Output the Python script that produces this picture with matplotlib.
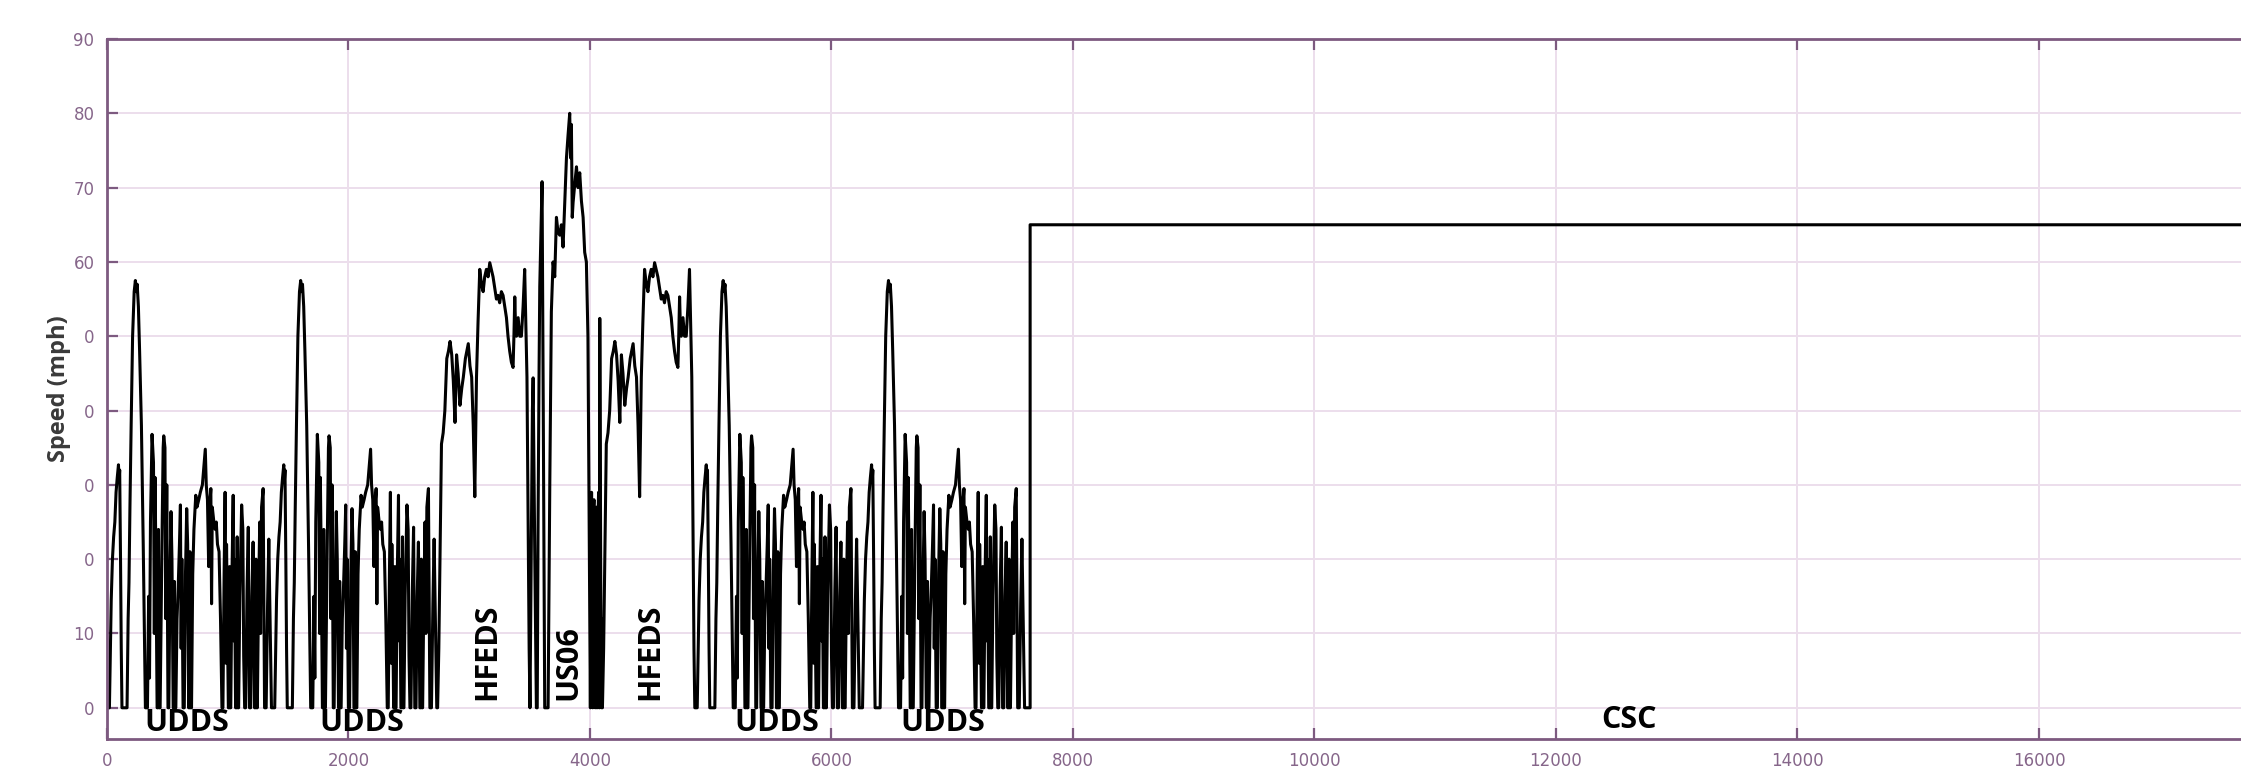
import numpy as np
import matplotlib
matplotlib.use("Agg")
import matplotlib.pyplot as plt

# one UDDS cycle, keypoints (s, mph)
udds_t = [0, 20, 28, 35, 45, 55, 65, 75, 85, 95, 100, 105, 112, 118, 124,
          166, 175, 182, 190, 200, 212, 225, 235, 242, 250, 260, 270, 285, 300, 318,
          335, 345, 352, 360, 373, 385, 392, 398, 405, 415,
          420, 426, 432,
          440, 455, 465, 470, 480, 486, 495, 505,
          512, 522, 530, 538, 548,
          553, 558, 563,
          570, 580, 590, 600, 608, 614, 620, 630,
          640, 650, 660, 668, 676,
          682, 687, 692,
          700, 710, 720, 735, 745, 760, 773, 790, 805, 814, 822, 832, 842,
          850, 860, 866, 872, 885, 897, 905, 915, 928, 940, 952,
          960, 970, 978, 985, 990, 1005,
          1010, 1015, 1020,
          1025, 1035, 1045, 1050, 1055, 1065,
          1072, 1078, 1084,
          1090, 1100, 1115, 1125, 1132, 1140,
          1148, 1160, 1170, 1180,
          1190, 1200, 1210, 1222,
          1228, 1234, 1240,
          1245, 1255, 1265, 1272, 1280, 1293, 1305,
          1318, 1330, 1340, 1352, 1362, 1369]
udds_v = [0, 0, 8, 14.5, 20, 23, 25, 29, 31, 32.7, 30.5, 32, 20, 8, 0,
          0, 12, 16.8, 27, 38, 50, 56, 57.5, 56, 57, 54, 48, 38, 22, 0,
          0, 15, 4, 25, 36.8, 33, 10, 31, 20, 0,
          0, 24, 0,
          0, 22, 35, 36.6, 35, 12, 30, 0,
          0, 18, 26.4, 20, 0,
          0, 17, 0,
          0, 12, 16.4, 22, 27.3, 8, 20, 0,
          0, 18, 26.8, 22, 0,
          0, 21, 0,
          0, 18, 24, 28.6, 27, 28, 29, 30, 33, 34.8, 30, 28, 19,
          27, 29.5, 14, 27, 25, 24, 25, 22, 21, 12, 0,
          0, 18, 29, 6, 22, 0,
          0, 19, 0,
          0, 18, 28.6, 9, 20, 0,
          0, 23, 0,
          0, 15, 27.3, 24, 7, 0,
          0, 16, 24.3, 0,
          0, 15, 22.3, 0,
          0, 20, 0,
          0, 15, 25, 10, 27, 29.5, 0,
          0, 14, 22.7, 10, 0, 0]

# HFEDS cycle
hfeds_t = [0, 10, 20, 32, 46, 60, 76, 90, 103, 117, 130, 144, 157, 170, 185, 200,
           213, 230, 254, 268, 282, 295, 308, 322, 335, 349, 363, 377, 390, 404,
           418, 432, 445, 459, 473, 487, 500, 514, 528, 542, 556, 570, 583, 597,
           611, 625, 632, 639, 646, 653, 667, 680, 694, 708, 721, 730, 740, 750,
           758, 765]
hfeds_v = [0, 8, 20, 35.5, 37, 40, 47, 48, 49.3, 47.5, 44, 38.4, 47.5, 45, 40.7, 43,
           44.5, 47, 49, 46, 44.5, 38, 28.4, 44.5, 52, 59, 57, 56, 58, 59,
           58, 59.9, 59, 58, 56.5, 55, 55.5, 54.5, 56, 55.5, 54, 52.5, 50, 48,
           46.5, 45.8, 50, 55.3, 51, 50, 52.5, 50, 50, 54, 59, 52, 44.5, 25,
           8, 0]

# US06 cycle
us06_t = [0, 10, 20, 26, 40, 53, 60, 67, 75, 81, 92, 100, 110, 122, 150, 164, 177,
          191, 205, 219, 232, 246, 260, 274, 288, 302, 315, 329, 336, 343, 350,
          357, 371, 385, 398, 412, 426, 440, 453, 467, 480, 489, 500,
          505, 510, 515, 520, 525, 530, 535, 540, 545, 550, 555, 562, 568, 574,
          578, 585, 590, 596, 600]
us06_v = [0, 20, 40, 44.4, 20, 0, 0, 25, 45, 56.7, 65, 70.8, 40, 0, 0, 30, 53.3,
          60, 58, 66, 64, 63.6, 65, 62, 68, 74, 77, 80, 74, 78.5, 66,
          68, 70.5, 72.8, 70, 72, 68.2, 66, 61.3, 60, 50, 27, 0,
          18, 29, 5, 0, 26, 28, 3, 0, 22, 27, 0, 24, 29, 0,
          52.4, 20, 0, 12, 0]

# constant speed cycle at the end
csc_t = [0, 39, 39, 12000]
csc_v = [0, 0, 65, 65]

# order of the cycles and their start time (s)
cycle_names = ['UDDS', 'UDDS', 'HFEDS', 'US06', 'HFEDS', 'UDDS', 'UDDS', 'CSC']
cycle_start = [0, 1369, 2738, 3503, 4103, 4868, 6237, 7606]

cycles = {'UDDS': (udds_t, udds_v), 'HFEDS': (hfeds_t, hfeds_v),
          'US06': (us06_t, us06_v), 'CSC': (csc_t, csc_v)}

tt = []
vv = []
for name, t0 in zip(cycle_names, cycle_start):
    t, v = cycles[name]
    tt.extend(np.array(t) + t0)
    vv.extend(v)

purple = '#7d5a80'
ticklab = '#86668a'

fig = plt.figure(figsize=(22.41, 7.8), dpi=100)
ax = fig.add_axes([107 / 2241, 41 / 780, 1 - 107 / 2241, 700 / 780])

ax.plot(tt, vv, color='black', lw=2.2)

ax.set_xlim(0, 17673)
ax.set_ylim(-4.2, 90)
ax.set_xticks(np.arange(0, 17000, 2000))
ax.set_yticks(np.arange(0, 100, 10))
# the first digit of some y labels is hidden in the original picture
ax.set_yticklabels(['0', '10', '0', '0', '0', '0', '60', '70', '80', '90'])

ax.grid(True, color='#ecdeec', lw=1.4)
ax.set_axisbelow(True)
for s in ['top', 'bottom', 'left']:
    ax.spines[s].set_color(purple)
    ax.spines[s].set_linewidth(2)
ax.spines['right'].set_visible(False)
ax.tick_params(direction='in', length=8, width=1.6, color=purple,
               labelcolor=ticklab, labelsize=12, top=True, right=False)
ax.tick_params(axis='x', pad=9)
ax.tick_params(axis='y', pad=9)

ax.set_ylabel('Speed (mph)', fontsize=17, fontweight='bold', color='#3a3a3a',
              family=['Open Sans', 'DejaVu Sans'], labelpad=2)

lab = dict(fontsize=22, fontweight='bold', color='black',
           family=['Open Sans', 'DejaVu Sans'])
ax.text(663, -2.1, 'UDDS', ha='center', va='center', **lab)
ax.text(2107, -2.1, 'UDDS', ha='center', va='center', **lab)
ax.text(5550, -2.1, 'UDDS', ha='center', va='center', **lab)
ax.text(6923, -2.1, 'UDDS', ha='center', va='center', **lab)
ax.text(12604, -1.7, 'CSC', ha='center', va='center', **lab)
ax.text(3148, 1, 'HFEDS', ha='center', va='bottom', rotation=90, **lab)
ax.text(3822, 1, 'US06', ha='center', va='bottom', rotation=90, **lab)
ax.text(4497, 1, 'HFEDS', ha='center', va='bottom', rotation=90, **lab)

fig.savefig('out.png', dpi=100)
